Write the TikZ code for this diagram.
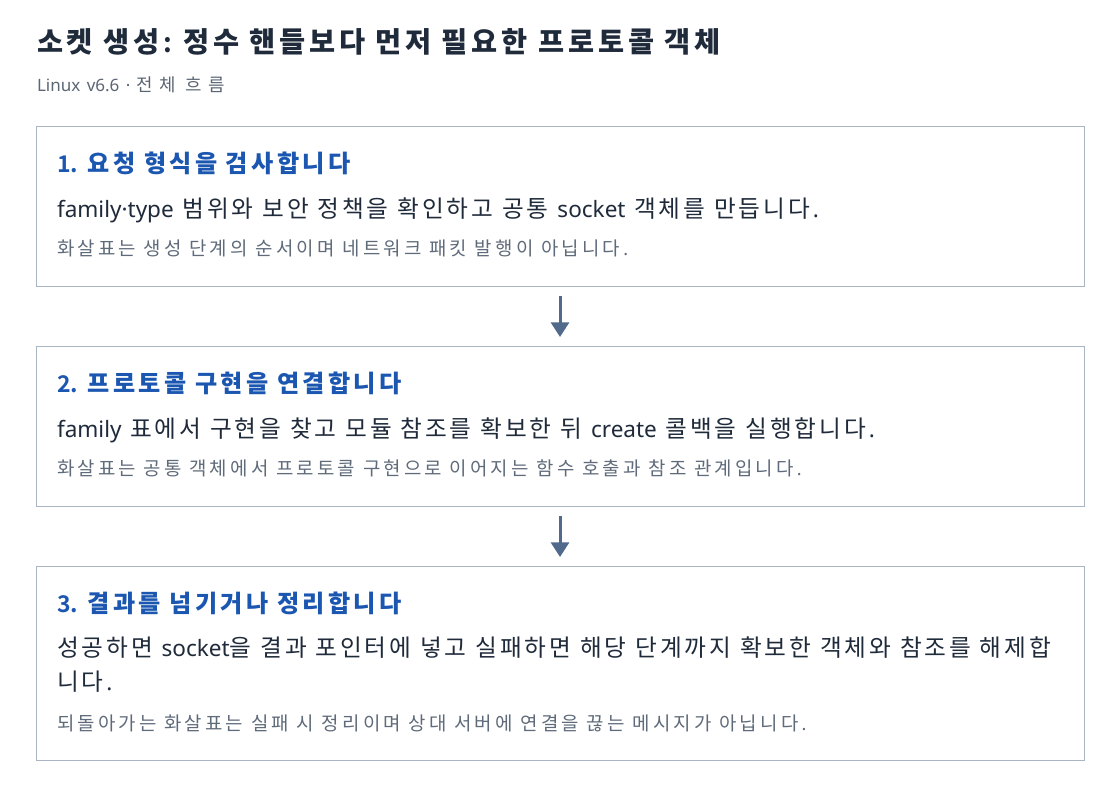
\documentclass[tikz,border=0pt]{standalone}
\usepackage{fontspec}
\setmainfont{Noto Sans}[BoldFont={Noto Sans CJK KR Bold}]
\newfontfamily\latfont{Noto Sans}[BoldFont={Noto Sans CJK KR Bold}]
\newfontfamily\krfont{Noto Sans CJK KR}[Scale=1.05]
\usetikzlibrary{arrows.meta}
% Hangul syllables: switch to the CJK family and space them out
\XeTeXinterchartokenstate=1
\newXeTeXintercharclass\hgcls
\count255="AC00
\loop
  \XeTeXcharclass\count255=\hgcls
  \ifnum\count255<"D7A3
  \advance\count255 by 1
\repeat
\def\hgap{0pt}
\def\lgap{0.12em}
\XeTeXinterchartoks 0 \hgcls = {\krfont}
\XeTeXinterchartoks 4095 \hgcls = {\krfont}
\XeTeXinterchartoks \hgcls \hgcls = {\kern\hgap\relax}
\XeTeXinterchartoks \hgcls 0 = {\kern\hgap\relax\latfont}
\XeTeXinterchartoks \hgcls 4095 = {\kern\hgap\relax\latfont}
\XeTeXinterchartoks 0 4095 = {\kern\lgap\relax}
\definecolor{titlec}{HTML}{1F2A3A}
\definecolor{subc}{HTML}{5B6675}
\definecolor{headc}{HTML}{1B57B0}
\definecolor{bodyc}{HTML}{1F2A3A}
\definecolor{notec}{HTML}{5F6B7A}
\definecolor{borderc}{HTML}{A9B5C3}
\definecolor{arrowc}{HTML}{51698A}
\tikzset{
  txt/.style={anchor=base west, inner sep=0pt, outer sep=0pt},
  titletxt/.style={txt, text=titlec, font=\def\hgap{2.95pt}\bfseries\fontsize{20.25pt}{24pt}\selectfont},
  subtxt/.style={txt, text=subc, font=\def\hgap{4.4pt}\fontsize{12.75pt}{15pt}\selectfont},
  headtxt/.style={txt, text=headc, font=\def\hgap{2.5pt}\bfseries\fontsize{17.25pt}{20pt}\selectfont},
  bodytxt/.style={txt, text=bodyc, font=\def\hgap{2.2pt}\fontsize{16.9pt}{20pt}\selectfont},
  notetxt/.style={txt, text=notec, font=\def\hgap{2.35pt}\fontsize{13.5pt}{16pt}\selectfont},
  stepbox/.style={draw=borderc, line width=1pt, fill=white},
  flow/.style={draw=arrowc, line width=2.25pt, -{Triangle[length=11pt,width=13.5pt]}},
}
\begin{document}
\begin{tikzpicture}[x=0.75pt,y=-0.75pt]
\useasboundingbox[fill=white] (0,0) rectangle (1120,788);
\node[titletxt] (title) at (37,53) {소켓 생성: 정수 핸들보다 먼저 필요한 프로토콜 객체};
\node[subtxt] (sub) at (37,92) {Linux v6.6 · 전체 흐름};

\path[stepbox] (36.5,126.5) rectangle (1084.5,286.5);
\node[headtxt] (h1) at (57,172) {1. 요청 형식을 검사합니다};
\node[bodytxt] (t1) at (57,217) {family·type 범위와 보안 정책을 확인하고 공통 socket 객체를 만듭니다.};
\node[notetxt] (n1) at (57,255) {화살표는 생성 단계의 순서이며 네트워크 패킷 발행이 아닙니다.};

\path[stepbox] (36.5,346.5) rectangle (1084.5,506.5);
\node[headtxt] (h2) at (57,392) {2. 프로토콜 구현을 연결합니다};
\node[bodytxt] (t2) at (57,437) {family 표에서 구현을 찾고 모듈 참조를 확보한 뒤 create 콜백을 실행합니다.};
\node[notetxt] (n2) at (57,475) {화살표는 공통 객체에서 프로토콜 구현으로 이어지는 함수 호출과 참조 관계입니다.};

\path[stepbox] (36.5,566.5) rectangle (1084.5,760.5);
\node[headtxt] (h3) at (57,612) {3. 결과를 넘기거나 정리합니다};
\node[bodytxt] (t3a) at (57,656) {성공하면 socket을 결과 포인터에 넣고 실패하면 해당 단계까지 확보한 객체와 참조를 해제합};
\node[bodytxt] (t3b) at (57,690) {니다.};
\node[notetxt] (n3) at (57,730) {되돌아가는 화살표는 실패 시 정리이며 상대 서버에 연결을 끊는 메시지가 아닙니다.};

\coordinate (a1s) at (560,296);
\coordinate (a1e) at (560,337);
\coordinate (a2s) at (560,516);
\coordinate (a2e) at (560,557);
\draw[flow] (a1s) -- (a1e);
\draw[flow] (a2s) -- (a2e);
\end{tikzpicture}
\end{document}
